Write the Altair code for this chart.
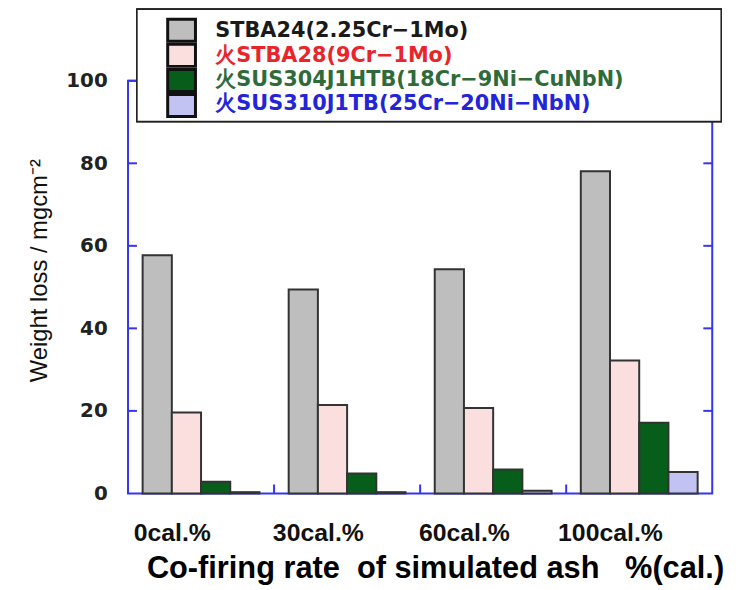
import altair as alt
import pandas as pd

cats = ["0cal.%", "30cal.%", "60cal.%", "100cal.%"]
series = [
    "STBA24(2.25Cr\u22121Mo)",
    "\u706bSTBA28(9Cr\u22121Mo)",
    "\u706bSUS304J1HTB(18Cr\u22129Ni\u2212CuNbN)",
    "\u706bSUS310J1TB(25Cr\u221220Ni\u2212NbN)",
]
stba24 = [57.7, 49.4, 54.3, 78.1]
stba28 = [19.6, 21.4, 20.7, 32.2]
sus304 = [2.8, 4.8, 5.8, 17.1]
sus310 = [0.3, 0.3, 0.65, 5.2]
yticks = [20, 40, 60, 80, 100]
xbounds = ["30cal.%", "60cal.%", "100cal.%"]
x_title = "Co-firing rate\u00a0\u00a0of simulated ash\u00a0\u00a0\u00a0%(cal.)"
y_title = "Weight loss / mgcm\u207b\u00b2"

bar_colors = ["#bebebe", "#fbdfdf", "#075e1b", "#c3c3f3"]
text_colors = ["#1a1a1a", "#e8252a", "#2f6b3a", "#2424d8"]
BLUE = "#3535ee"

W, H = 589, 416

rows = []
for s, vals in zip(series, [stba24, stba28, sus304, sus310]):
    for c, v in zip(cats, vals):
        rows.append({"cat": c, "series": s, "value": v})
df = pd.DataFrame(rows)

xscale = alt.Scale(domain=cats, paddingInner=0, paddingOuter=0)
yscale = alt.Scale(domain=[0, 100], nice=False)

bars = alt.Chart(df).mark_bar(stroke="#333333", strokeWidth=2).encode(
    x=alt.X("cat:N", scale=xscale, sort=cats, axis=None),
    xOffset=alt.XOffset("series:N", sort=series,
                        scale=alt.Scale(domain=series, paddingInner=0, paddingOuter=0.5)),
    y=alt.Y("value:Q", scale=yscale,
            axis=alt.Axis(title=y_title, values=[0, 20, 40, 60, 80, 100],
                          labelFont="DejaVu Sans", labelFontWeight="bold",
                          labelFontSize=20, labelColor="#222222", labelPadding=21,
                          titleFont="Liberation Sans", titleFontWeight="normal",
                          titleFontSize=24, titleColor="#111111",
                          titleAngle=-90, titleX=-89, titleY=191,
                          titleAlign="center", titleBaseline="middle",
                          domain=False, ticks=False, grid=False)),
    color=alt.Color("series:N", sort=series,
                    scale=alt.Scale(domain=series, range=bar_colors), legend=None),
)

cat_df = pd.DataFrame({"cat": cats})
xlabels = alt.Chart(cat_df).mark_text(
    font="Liberation Sans", fontWeight="bold", fontSize=25, color="#111111",
    baseline="top", align="center", dx=-29
).encode(
    x=alt.X("cat:N", scale=xscale, sort=cats, axis=None),
    y=alt.value(H + 28),
    text="cat:N",
)

xtitle = alt.Chart(pd.DataFrame({"t": [x_title]})).mark_text(
    font="Liberation Sans", fontWeight="bold", fontSize=31, color="#000000",
    baseline="alphabetic", align="center"
).encode(
    x=alt.value(310), y=alt.value(H + 85), text="t:N",
)

tick_df = pd.DataFrame({"v": yticks})
left_ticks = alt.Chart(tick_df).mark_rule(color=BLUE, strokeWidth=2).encode(
    y=alt.Y("v:Q", scale=yscale, axis=None),
    x=alt.value(0), x2=alt.value(9),
)
right_ticks = alt.Chart(tick_df).mark_rule(color=BLUE, strokeWidth=2).encode(
    y=alt.Y("v:Q", scale=yscale, axis=None),
    x=alt.value(W - 9), x2=alt.value(W),
)
xb_df = pd.DataFrame({"cat": xbounds})
bottom_ticks = alt.Chart(xb_df).mark_rule(color=BLUE, strokeWidth=2).encode(
    x=alt.X("cat:N", scale=xscale, sort=cats, bandPosition=0, axis=None),
    y=alt.value(H), y2=alt.value(H - 9),
)

leg_df = pd.DataFrame({"series": series})
legend_box = alt.Chart(leg_df).mark_rect(fill="white", stroke="#222222", strokeWidth=1.5).encode(
    x=alt.value(9), x2=alt.value(598), y=alt.value(-72), y2=alt.value(41),
)
lscale = alt.Scale(domain=series, range=[-62, 36], paddingInner=0.12, paddingOuter=0)
swatches = alt.Chart(leg_df).mark_rect(stroke="#111111", strokeWidth=3).encode(
    y=alt.Y("series:N", scale=lscale, sort=series, axis=None),
    x=alt.value(40), x2=alt.value(68),
    fill=alt.Fill("series:N", sort=series,
                  scale=alt.Scale(domain=series, range=bar_colors), legend=None),
)
labels = alt.Chart(leg_df).mark_text(align="left", baseline="middle",
                                     font="DejaVu Sans", fontWeight="bold",
                                     fontSize=21).encode(
    y=alt.Y("series:N", scale=lscale, sort=series, axis=None),
    x=alt.value(88),
    text="series:N",
    color=alt.Color("series:N", sort=series,
                    scale=alt.Scale(domain=series, range=text_colors), legend=None),
)

chart = alt.layer(
    bars, xlabels, xtitle, left_ticks, right_ticks, bottom_ticks,
    legend_box, swatches, labels
).resolve_scale(
    y="independent", color="independent", fill="independent"
).properties(
    width=W, height=H,
    autosize=alt.AutoSizeParams(type="none"),
    padding={"left": 121, "top": 71, "right": 30, "bottom": 94},
).configure_view(
    stroke=BLUE, strokeWidth=2
)

chart.save("out.html", embed_options={"renderer": "svg", "actions": False})
